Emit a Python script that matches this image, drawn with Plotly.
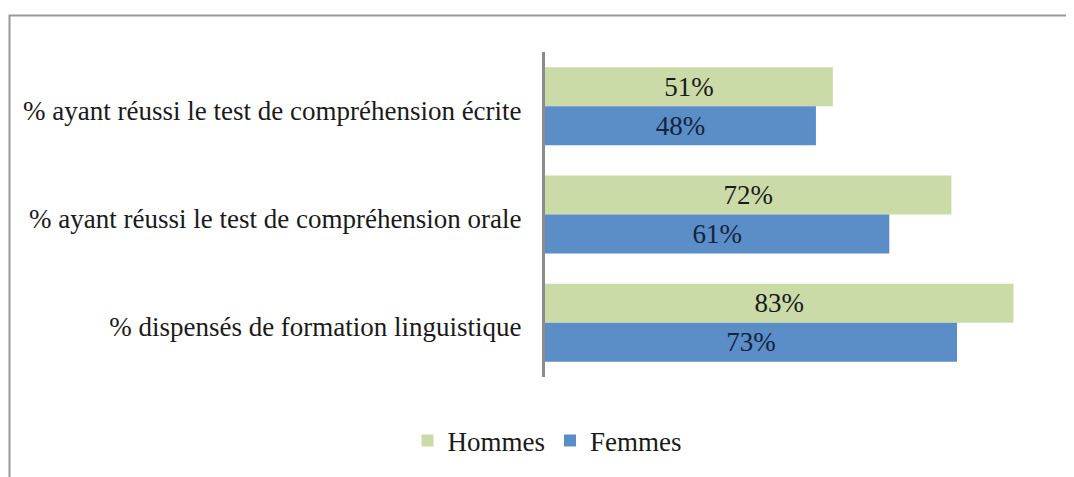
import plotly.graph_objects as go

categories = [
    "% ayant réussi le test de compréhension écrite",
    "% ayant réussi le test de compréhension orale",
    "% dispensés de formation linguistique",
]
hommes = [51, 72, 83]
femmes = [48, 61, 73]
series_names = ["Hommes", "Femmes"]

W, H = 1074, 477
OFF = 8  # page body margin offset
L, T = 545 - OFF, 52 - OFF
PW, PH = 508, 325
R = W - L - PW
B = H - T - PH

font_family = "Liberation Serif"
FS = 27

fig = go.Figure()
fig.add_trace(go.Bar(
    y=categories, x=hommes, name=series_names[0], orientation="h",
    marker=dict(color="#CADBA8", line=dict(width=0)),
    text=[f"{v}%" for v in hommes], textposition="inside",
    insidetextanchor="middle",
    textfont=dict(family=font_family, size=FS, color="#1a1a1a"),
))
fig.add_trace(go.Bar(
    y=categories, x=femmes, name=series_names[1], orientation="h",
    marker=dict(color="#5B8DC7", line=dict(width=0)),
    text=[f"{v}%" for v in femmes], textposition="inside",
    insidetextanchor="middle",
    textfont=dict(family=font_family, size=FS, color="#14243d"),
))

def px_x(p):
    return (p - OFF - L) / PW

def px_y(p):
    return (T + PH - (p - OFF)) / PH

fig.update_layout(
    width=W, height=H,
    margin=dict(l=L, r=R, t=T, b=B, autoexpand=False),
    barmode="group", bargap=0.28, bargroupgap=0,
    plot_bgcolor="white", paper_bgcolor="white",
    font=dict(family=font_family, size=FS, color="#1a1a1a"),
    uniformtext=dict(mode="show", minsize=10),
    xaxis=dict(range=[0, 90], showgrid=False, zeroline=False,
               showticklabels=False, showline=False, ticks=""),
    yaxis=dict(autorange="reversed", showgrid=False, zeroline=False,
               showline=True, linecolor="#8c8c8c", linewidth=3,
               ticks="", ticklabelstandoff=15, ticklabelshift=-4,
               tickfont=dict(family=font_family, size=FS, color="#1a1a1a")),
    legend=dict(orientation="h", x=px_x(547), xanchor="center",
                y=px_y(441), yanchor="middle",
                font=dict(family=font_family, size=FS, color="#1a1a1a"),
                itemwidth=30, tracegroupgap=0),
    shapes=[dict(type="rect", xref="paper", yref="paper",
                 x0=px_x(9.5), x1=px_x(1100), y0=px_y(15.5), y1=px_y(520),
                 line=dict(color="#999999", width=2), fillcolor="rgba(0,0,0,0)",
                 layer="below")],
)

fig.write_html("out.html")
